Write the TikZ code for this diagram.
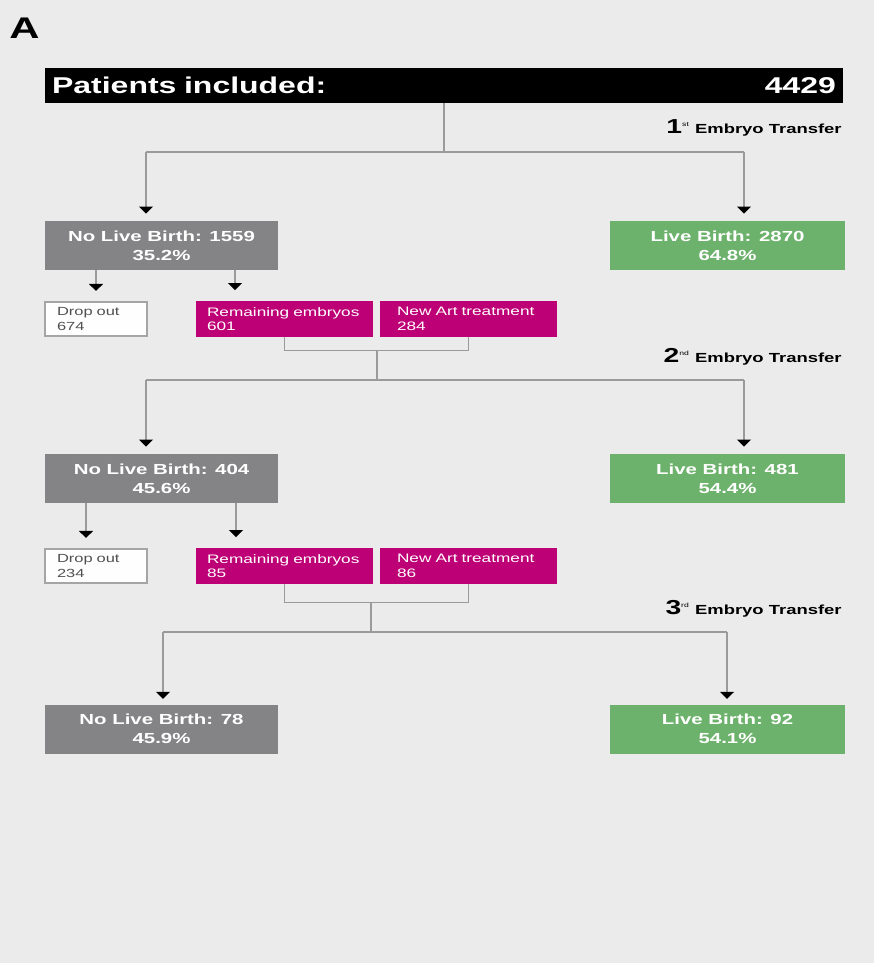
\documentclass[tikz,border=0pt]{standalone}
\usepackage{fontspec}
\setmainfont{Liberation Sans}[FakeStretch=1.4]
\usepackage{tikz}
\usetikzlibrary{arrows.meta, calc, positioning}
\definecolor{sfondo}{HTML}{EBEBEB}
\definecolor{grigio}{HTML}{848486}
\definecolor{verde}{HTML}{6DB26C}
\definecolor{fucsia}{HTML}{BE0077}
\definecolor{linee}{HTML}{9A9A9A}
\definecolor{bordo}{HTML}{A5A5A5}
\definecolor{testo}{HTML}{505050}
\newcommand{\transfer}[2]{%
{\fontsize{11.5}{11.5}\selectfont\bfseries #1}\textsuperscript{\fontsize{3.5}{3.5}\selectfont #2}\hspace{3pt}{\fontsize{7.5}{9}\selectfont\bfseries Embryo Transfer}%
}

\begin{document}
\begin{tikzpicture}[x=0.02cm, y=-0.02cm,
    linea/.style={draw=linee, line width=0.6pt},
    freccia/.style={linea, -{Triangle[width=8pt, length=4pt, color=black]}, shorten >=4pt},
    barra/.style={fill=black, text=white, font=\fontsize{13}{14}\selectfont\bfseries, text width=15.68cm, inner xsep=0.14cm, minimum height=0.7cm, inner ysep=0pt},
    nobox/.style={fill=grigio, text=white, font=\fontsize{8.3}{10.8}\selectfont\bfseries, align=center, minimum width=4.66cm, minimum height=0.98cm, inner sep=0pt},
    sibox/.style={nobox, fill=verde, minimum width=4.7cm},
    dropbox/.style={draw=bordo, line width=0.6pt, fill=white!96!sfondo, text=testo, font=\fontsize{6.7}{8.3}\selectfont, align=left, text width=1.56cm, inner xsep=0.24cm, minimum height=0.68cm, inner ysep=0pt},
    magbox/.style={fill=fucsia, text=white, font=\fontsize{7}{8.3}\selectfont, align=left, minimum height=0.72cm, inner ysep=0pt}]
    % Sfondo
    \fill[sfondo] (0,0) rectangle (874,963);
    \useasboundingbox (0,0) rectangle (874,963);
    \node[anchor=north west, inner sep=0pt, font=\fontsize{17}{17}\selectfont\bfseries] (lettera) at (9,18) {A};

    % Pazienti
    \node[barra] (pazienti) at (444,85.5) {Patients included:\hfill 4429};
    \node[anchor=base east, inner sep=0pt] (et1) at (842,133) {\transfer{1}{st}};

    % 1 transfer
    \node[nobox] (no1) at (161.5,245.5) {No Live Birth: 1559\\35.2\%};
    \node[sibox] (si1) at (727.5,245.5) {Live Birth: 2870\\64.8\%};
    \node[dropbox] (drop1) at (96,319) {Drop out\\674};
    \node[magbox, text width=3.10cm, inner xsep=0.22cm] (rem1) at (284.5,319) {Remaining embryos\\601};
    \node[magbox, text width=2.86cm, inner xsep=0.34cm] (art1) at (468.5,319) {New Art treatment\\284};
    \node[anchor=base east, inner sep=0pt] (et2) at (842,362) {\transfer{2}{nd}};

    % 2 transfer
    \node[nobox] (no2) at (161.5,478.5) {No Live Birth: 404\\45.6\%};
    \node[sibox] (si2) at (727.5,478.5) {Live Birth: 481\\54.4\%};
    \node[dropbox] (drop2) at (96,566) {Drop out\\234};
    \node[magbox, text width=3.10cm, inner xsep=0.22cm] (rem2) at (284.5,566) {Remaining embryos\\85};
    \node[magbox, text width=2.86cm, inner xsep=0.34cm] (art2) at (468.5,566) {New Art treatment\\86};
    \node[anchor=base east, inner sep=0pt] (et3) at (842,614) {\transfer{3}{rd}};

    % 3 transfer
    \node[nobox] (no3) at (161.5,729) {No Live Birth: 78\\45.9\%};
    \node[sibox] (si3) at (727.5,729) {Live Birth: 92\\54.1\%};

    % Punti di snodo
    \coordinate (g1) at (444,152);
    \coordinate (l1) at (146,152);
    \coordinate (r1) at (744,152);
    \coordinate (m1) at (377,350);
    \coordinate (g2) at (377,380);
    \coordinate (l2) at (146,380);
    \coordinate (r2) at (744,380);
    \coordinate (m2) at (371,602);
    \coordinate (g3) at (371,632);
    \coordinate (l3) at (163,632);
    \coordinate (r3) at (727,632);
    \coordinate (d1) at (96,0);
    \coordinate (e1) at (235,0);
    \coordinate (d2) at (86,0);
    \coordinate (e2) at (236,0);

    % Connettori
    \draw[linea] (pazienti) -- (g1);
    \draw[linea] (l1) -- (r1);
    \draw[freccia] (l1) -- (l1 |- no1.north);
    \draw[freccia] (r1) -- (r1 |- si1.north);
    \draw[freccia, shorten >=6pt] (d1 |- no1.south) -- (d1 |- drop1.north);
    \draw[freccia, shorten >=6pt] (e1 |- no1.south) -- (e1 |- rem1.north);
    \draw[linea] (rem1.south) -- ++(0,13) -| (art1.south);
    \draw[linea] (m1) -- (g2);
    \draw[linea] (l2) -- (r2);
    \draw[freccia] (l2) -- (l2 |- no2.north);
    \draw[freccia] (r2) -- (r2 |- si2.north);
    \draw[freccia, shorten >=6pt] (d2 |- no2.south) -- (d2 |- drop2.north);
    \draw[freccia, shorten >=6pt] (e2 |- no2.south) -- (e2 |- rem2.north);
    \draw[linea] (rem2.south) -- ++(0,18) -| (art2.south);
    \draw[linea] (m2) -- (g3);
    \draw[linea] (l3) -- (r3);
    \draw[freccia, shorten >=3pt] (l3) -- (l3 |- no3.north);
    \draw[freccia, shorten >=3pt] (r3) -- (r3 |- si3.north);
\end{tikzpicture}
\end{document}
